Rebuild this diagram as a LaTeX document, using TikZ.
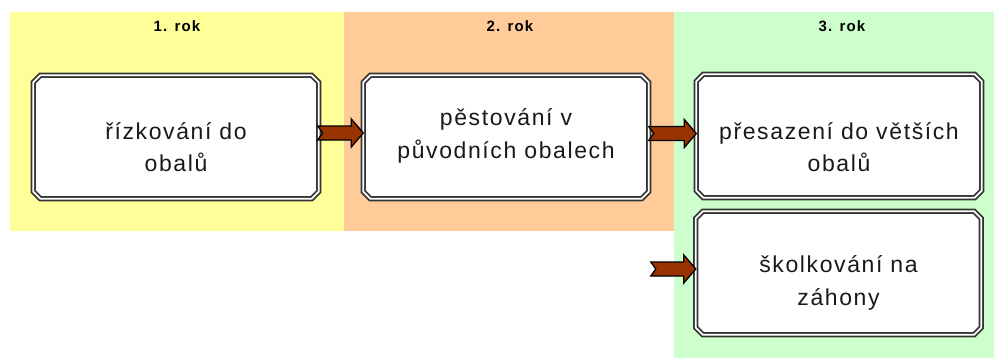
\documentclass[tikz,border=0pt]{standalone}
\usepackage{fontspec}
\setmainfont{Liberation Sans}
\newfontfamily\boxfont[LetterSpace=7]{Liberation Sans}
\newfontfamily\headfont[LetterSpace=8]{Liberation Sans}
\usetikzlibrary{calc}
\definecolor{bandyellow}{HTML}{FFFF99}
\definecolor{bandorange}{HTML}{FFCC99}
\definecolor{bandgreen}{HTML}{CCFFCC}
\definecolor{arrowbrown}{HTML}{993300}
\definecolor{boxline}{HTML}{333333}
\tikzset{
  stage/.style={shape=rectangle, draw=none,
    minimum width=285pt, minimum height=123pt, inner sep=0pt},
  stageline/.style={draw=boxline, line width=1.7pt,
    double=white, double distance=1.8pt, fill=white, line join=miter},
  stagetext/.style={align=center, inner sep=0pt,
    font=\boxfont\fontsize{23}{32.5}\selectfont, text=black!90},
  head/.style={font=\headfont\bfseries\fontsize{15}{17}\selectfont, text=black},
  blockarr/.style={draw=black, line width=1.3pt, fill=arrowbrown, line join=miter}
}
\newcommand\chamferbox[1]{%
  \draw[stageline] let \p1=(#1.north west), \p2=(#1.south east) in
    (\x1+7pt,\y1) -- (\x2-7pt,\y1) -- (\x2,\y1-7pt) -- (\x2,\y2+7pt)
    -- (\x2-7pt,\y2) -- (\x1+7pt,\y2) -- (\x1,\y2+7pt) -- (\x1,\y1-7pt) -- cycle;}
\newcommand\myblockarrow[2]{%
  \draw[blockarr] let \p1=(#1), \p2=(#2) in
    (\x1,\y1+7pt) -- (\x2-12pt,\y1+7pt) -- (\x2-12pt,\y1+14pt) -- (\x2,\y1)
    -- (\x2-12pt,\y1-14pt) -- (\x2-12pt,\y1-7pt) -- (\x1,\y1-7pt)
    -- (\x1+5pt,\y1) -- cycle;}
\begin{document}
\begin{tikzpicture}[x=1pt,y=-1pt]
\useasboundingbox (0,0) rectangle (994,360);
% bands
\fill[bandyellow] (10,12) rectangle (344,231);
\fill[bandorange] (344,12) rectangle (674,231);
\fill[bandgreen] (674,12) rectangle (994,358);
% headers
\node[head] (h1) at (177,26) {1. rok};
\node[head] (h2) at (510,26) {2. rok};
\node[head] (h3) at (842,26) {3. rok};
% boxes
\node[stage] (b1) at (176,137) {};
\node[stage] (b2) at (506,137) {};
\node[stage] (b3) at (839,136) {};
\node[stage] (b4) at (838.5,273) {};
\chamferbox{b1}
\chamferbox{b2}
\chamferbox{b3}
\chamferbox{b4}
\node[stagetext] (t1) at ($(b1.center)+(0,10)$) {řízkování do\\obalů};
\node[stagetext] (t2) at ($(b2.center)+(0,-1)$) {pěstování v\\původních obalech};
\node[stagetext] (t3) at ($(b3.center)+(0,11)$) {přesazení do větších\\obalů};
\node[stagetext] (t4) at ($(b4.center)+(0,10)$) {školkování na\\záhony};
% arrows
\coordinate (a1s) at ($(b1.east)+(-1,-4)$);
\coordinate (a1e) at ($(b2.west)+(0,-4)$);
\myblockarrow{a1s}{a1e}
\coordinate (a2s) at ($(b2.east)+(0,-3.5)$);
\coordinate (a2e) at ($(b3.west)+(0,-2.5)$);
\myblockarrow{a2s}{a2e}
\coordinate (a3s) at ($(b4.west)+(-45,-4)$);
\coordinate (a3e) at ($(b4.west)+(0,-4)$);
\myblockarrow{a3s}{a3e}
\end{tikzpicture}
\end{document}
